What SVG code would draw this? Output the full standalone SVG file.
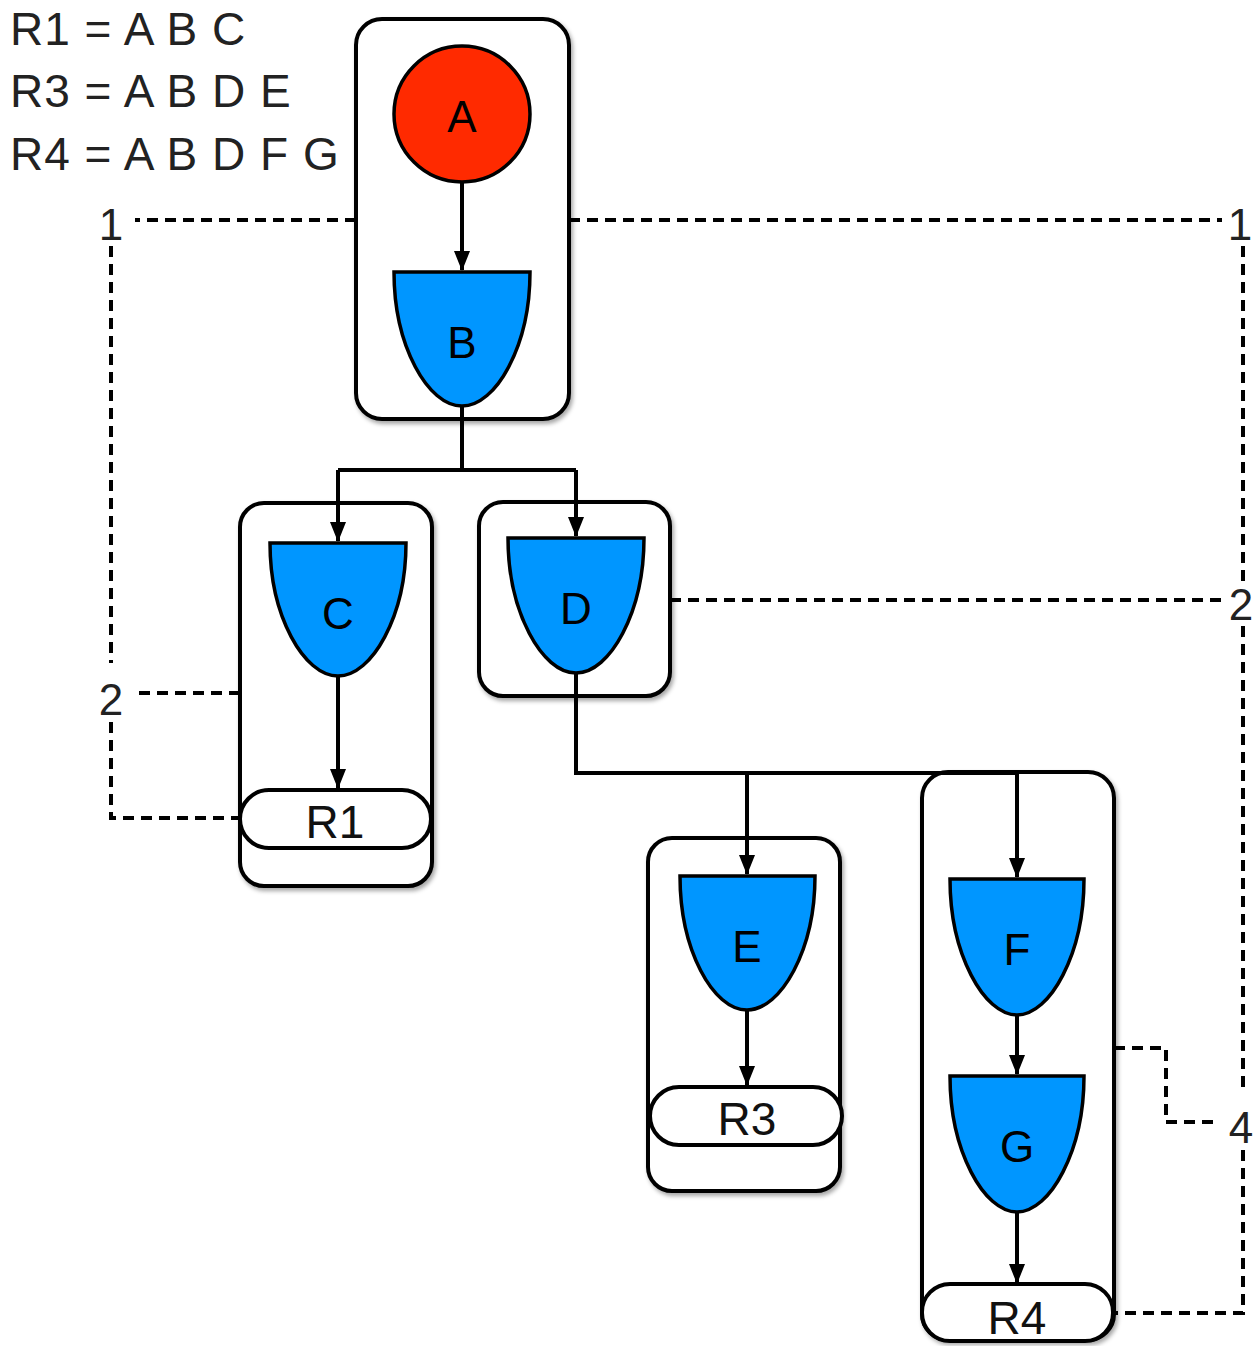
<svg xmlns="http://www.w3.org/2000/svg" width="1258" height="1346" viewBox="0 0 1258 1346">
<style>
.box{fill:#fff;stroke:#000;stroke-width:4;filter:url(#sh)}
.pill{fill:#fff;stroke:#000;stroke-width:4}
.cup{fill:#0096ff;stroke:#000;stroke-width:3.5}
.lbl{font-family:"Liberation Sans",Arial,sans-serif;font-size:44px;fill:#000;text-anchor:middle}
.rl{font-family:"Liberation Sans",Arial,sans-serif;font-size:46px;fill:#111;text-anchor:middle}
.num{font-family:"Liberation Sans",Arial,sans-serif;font-size:44px;fill:#222;text-anchor:middle}
.legend{font-family:"Liberation Sans",Arial,sans-serif;font-size:46px;fill:#222;letter-spacing:1px}
.arr{fill:none;stroke:#000;stroke-width:4;marker-end:url(#ah)}
.ln{fill:none;stroke:#000;stroke-width:4}
.dash{fill:none;stroke:#000;stroke-width:4;stroke-dasharray:11 7}
</style>
<defs>
<filter id="sh" x="-10%" y="-10%" width="130%" height="130%">
<feDropShadow dx="2" dy="3" stdDeviation="2" flood-color="#000" flood-opacity="0.35"/>
</filter>
<marker id="ah" viewBox="0 0 20 16" refX="19" refY="8" markerWidth="20" markerHeight="16" markerUnits="userSpaceOnUse" orient="auto">
<path d="M0,0 L20,8 L0,16 Z" fill="#000"/>
</marker>
</defs>

<g id="legend">
<text class="legend" x="10" y="45">R1 = A B C</text>
<text class="legend" x="10" y="107">R3 = A B D E</text>
<text class="legend" x="10" y="170">R4 = A B D F G</text>
</g>

<g id="box-AB">
<rect class="box" x="356" y="19" width="213" height="400" rx="26"/>
</g>
<g id="box-C">
<rect class="box" x="240" y="503" width="192" height="383" rx="24"/>
</g>
<g id="box-D">
<rect class="box" x="479" y="502" width="191" height="194" rx="24"/>
</g>
<g id="box-E">
<rect class="box" x="648" y="838" width="192" height="353" rx="24"/>
</g>
<g id="box-FG">
<rect class="box" x="922" y="772" width="192" height="568" rx="26"/>
</g>

<g id="connectors">
<path class="arr" d="M462,182 V270"/>
<path class="ln" d="M462,406 V470 H338"/>
<path class="arr" d="M338,470 V541"/>
<path class="ln" d="M462,470 H576"/>
<path class="arr" d="M576,470 V536"/>
<path class="arr" d="M338,676 V788"/>
<path class="ln" d="M576,673 V773 H1017"/>
<path class="arr" d="M747,773 V874"/>
<path class="arr" d="M1017,773 V877"/>
<path class="arr" d="M747,1010 V1085"/>
<path class="arr" d="M1017,1015 V1074"/>
<path class="arr" d="M1017,1212 V1283"/>
<path class="dash" d="M356,220 H135"/>
<path class="dash" d="M111,246 V663"/>
<path class="dash" d="M240,693 H135"/>
<path class="dash" d="M111,722 V818 H240"/>
<path class="dash" d="M569,220 H1222"/>
<path class="dash" d="M1243,246 V582"/>
<path class="dash" d="M670,600 H1222"/>
<path class="dash" d="M1243,626 V1092"/>
<path class="dash" d="M1114,1048 H1166 V1122 H1220"/>
<path class="dash" d="M1243,1150 V1313 H1114"/>
<text class="num" x="111" y="240">1</text>
<text class="num" x="111" y="715">2</text>
<text class="num" x="1240" y="240">1</text>
<text class="num" x="1241" y="620">2</text>
<text class="num" x="1241" y="1143">4</text>
</g>

<g id="node-A">
<circle cx="462" cy="114" r="68" fill="#ff2a00" stroke="#000" stroke-width="3.5"/>
<text class="lbl" x="462" y="132">A</text>
</g>
<g id="node-B">
<path class="cup" d="M394,272 H530 C530,346 496,406 462,406 C428,406 394,346 394,272 Z"/>
<text class="lbl" x="462" y="358">B</text>
</g>
<g id="node-C">
<path class="cup" d="M270,543 H406 C406,616 372,676 338,676 C304,676 270,616 270,543 Z"/>
<text class="lbl" x="338" y="629">C</text>
</g>
<g id="node-D">
<path class="cup" d="M508,538 H644 C644,612 610,673 576,673 C542,673 508,612 508,538 Z"/>
<text class="lbl" x="576" y="624">D</text>
</g>
<g id="node-E">
<path class="cup" d="M680,876 H815 C815,950 781,1010 747,1010 C713,1010 680,950 680,876 Z"/>
<text class="lbl" x="747" y="962">E</text>
</g>
<g id="node-F">
<path class="cup" d="M950,879 H1084 C1084,954 1050,1015 1017,1015 C984,1015 950,954 950,879 Z"/>
<text class="lbl" x="1017" y="965">F</text>
</g>
<g id="node-G">
<path class="cup" d="M950,1076 H1084 C1084,1151 1050,1212 1017,1212 C984,1212 950,1151 950,1076 Z"/>
<text class="lbl" x="1017" y="1162">G</text>
</g>
<g id="node-R1">
<rect class="pill" x="240" y="790" width="191" height="58" rx="29"/>
<text class="rl" x="335" y="838">R1</text>
</g>
<g id="node-R3">
<rect class="pill" x="650" y="1087" width="192" height="58" rx="29"/>
<text class="rl" x="747" y="1135">R3</text>
</g>
<g id="node-R4">
<rect class="pill" x="922" y="1284" width="191" height="57" rx="28"/>
<text class="rl" x="1017" y="1334">R4</text>
</g>
</svg>
